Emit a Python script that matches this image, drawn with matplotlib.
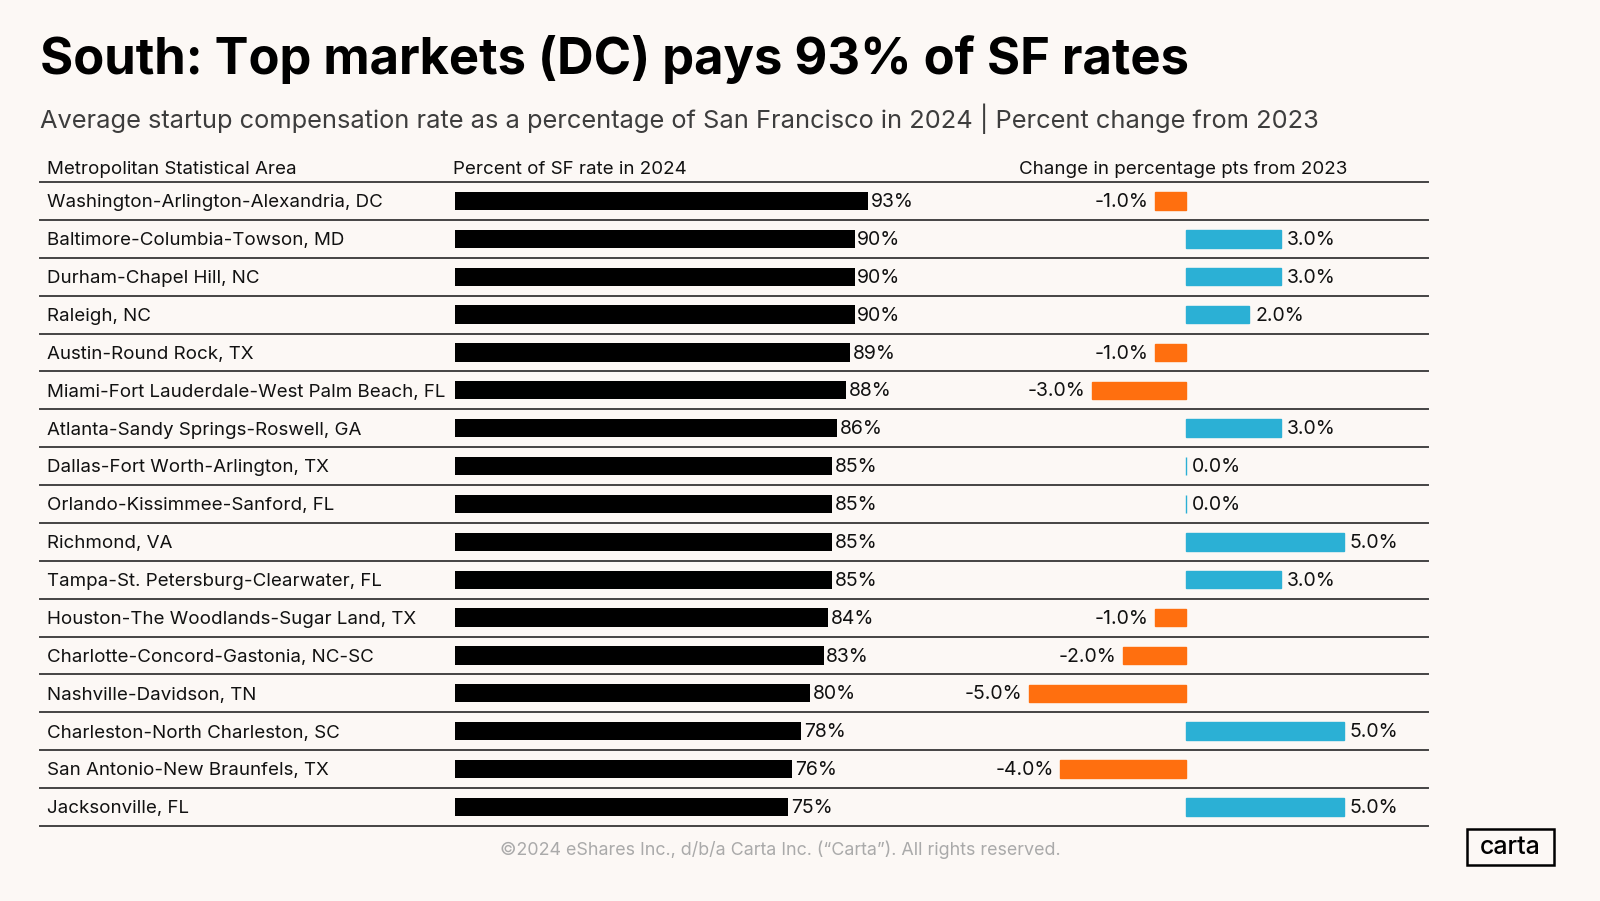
import matplotlib.pyplot as plt
from matplotlib.transforms import blended_transform_factory
from matplotlib.patches import Rectangle

# data
areas = [
    "Washington-Arlington-Alexandria, DC",
    "Baltimore-Columbia-Towson, MD",
    "Durham-Chapel Hill, NC",
    "Raleigh, NC",
    "Austin-Round Rock, TX",
    "Miami-Fort Lauderdale-West Palm Beach, FL",
    "Atlanta-Sandy Springs-Roswell, GA",
    "Dallas-Fort Worth-Arlington, TX",
    "Orlando-Kissimmee-Sanford, FL",
    "Richmond, VA",
    "Tampa-St. Petersburg-Clearwater, FL",
    "Houston-The Woodlands-Sugar Land, TX",
    "Charlotte-Concord-Gastonia, NC-SC",
    "Nashville-Davidson, TN",
    "Charleston-North Charleston, SC",
    "San Antonio-New Braunfels, TX",
    "Jacksonville, FL",
]
pct_sf = [93, 90, 90, 90, 89, 88, 86, 85, 85, 85, 85, 84, 83, 80, 78, 76, 75]
change = [-1.0, 3.0, 3.0, 2.0, -1.0, -3.0, 3.0, 0.0, 0.0, 5.0, 3.0, -1.0, -2.0, -5.0, 5.0, -4.0, 5.0]

BG = "#fcf8f5"
ORANGE = "#ff6f0f"
BLUE = "#2bb0d5"
FONT = "Inter"

W, H = 1600, 901
fig = plt.figure(figsize=(W / 100, H / 100), dpi=100, facecolor=BG)
plt.rcParams["font.family"] = [FONT, "DejaVu Sans"]

n = len(areas)
row_h = 37.875
top = 182.0
ax_h = n * row_h

def px_box(x0, x1):
    return [x0 / W, 1 - (top + ax_h) / H, (x1 - x0) / W, ax_h / H]

# left: percent of SF rate (0 at x=455, 4.44 px per pct)
ax1 = fig.add_axes(px_box(455, 455 + 444))
ax1.set_xlim(0, 100)
# right: change in pts (0 at x=1186, 31.5 px per pt)
ax2 = fig.add_axes(px_box(1186 - 6 * 31.5, 1186 + 6 * 31.5))
ax2.set_xlim(-6, 6)

ys = list(range(n))
for ax in (ax1, ax2):
    ax.set_ylim(n - 0.5, -0.5)
    ax.axis("off")
    ax.patch.set_alpha(0)

ax1.barh(ys, pct_sf, height=0.48, color="black")
for y, v in zip(ys, pct_sf):
    ax1.text(v + 0.6, y + 0.03, f"{v}%", va="center", ha="left", fontsize=14, color="#111")

cols = [ORANGE if c < 0 else BLUE for c in change]
ax2.barh(ys, change, height=0.46, color=cols, edgecolor=cols, linewidth=1)
for y, c in zip(ys, change):
    if c < 0:
        ax2.text(c - 0.2, y + 0.03, f"{c:.1f}%", va="center", ha="right", fontsize=14, color="#111")
    else:
        ax2.text(c + 0.2, y + 0.03, f"{c:.1f}%", va="center", ha="left", fontsize=14, color="#111")

# row labels and separators
tr = blended_transform_factory(fig.transFigure, ax1.transData)
for y, name in zip(ys, areas):
    ax1.text(47 / W, y + 0.05, name, transform=tr, va="center", ha="left", fontsize=13.5, color="#111")
for k in range(n + 1):
    ax1.plot([40 / W, 1428 / W], [k - 0.5, k - 0.5], transform=tr, color="#444",
             linewidth=1.4, clip_on=False)

# column headers
hy = 1 - 170 / H
fig.text(47 / W, hy, "Metropolitan Statistical Area", fontsize=13.5, va="center", color="#111")
fig.text(453 / W, hy, "Percent of SF rate in 2024", fontsize=13.5, va="center", color="#111")
fig.text(1019 / W, hy, "Change in percentage pts from 2023", fontsize=13.5, va="center", color="#111")

# title and subtitle
fig.text(40 / W, 1 - 60 / H, "South: Top markets (DC) pays 93% of SF rates",
         fontsize=36.5, fontweight="bold", va="center", color="black")
fig.text(40 / W, 1 - 119 / H,
         "Average startup compensation rate as a percentage of San Francisco in 2024 | Percent change from 2023",
         fontsize=18.3, va="center", color="#3d3d3d")

# footer
fig.text(780 / W, 1 - 850 / H, "©2024 eShares Inc., d/b/a Carta Inc. (“Carta”). All rights reserved.",
         fontsize=12.9, va="center", ha="center", color="#aaaaaa")
fig.patches.append(Rectangle((1467 / W, 1 - 865 / H), 87 / W, 36 / H, transform=fig.transFigure,
                             facecolor="none", edgecolor="black", linewidth=1.8))
fig.text(1510 / W, 1 - 848 / H, "carta", fontsize=18, fontweight="medium", va="center",
         ha="center", color="black")

fig.savefig("out.png", dpi=100, facecolor=BG)
